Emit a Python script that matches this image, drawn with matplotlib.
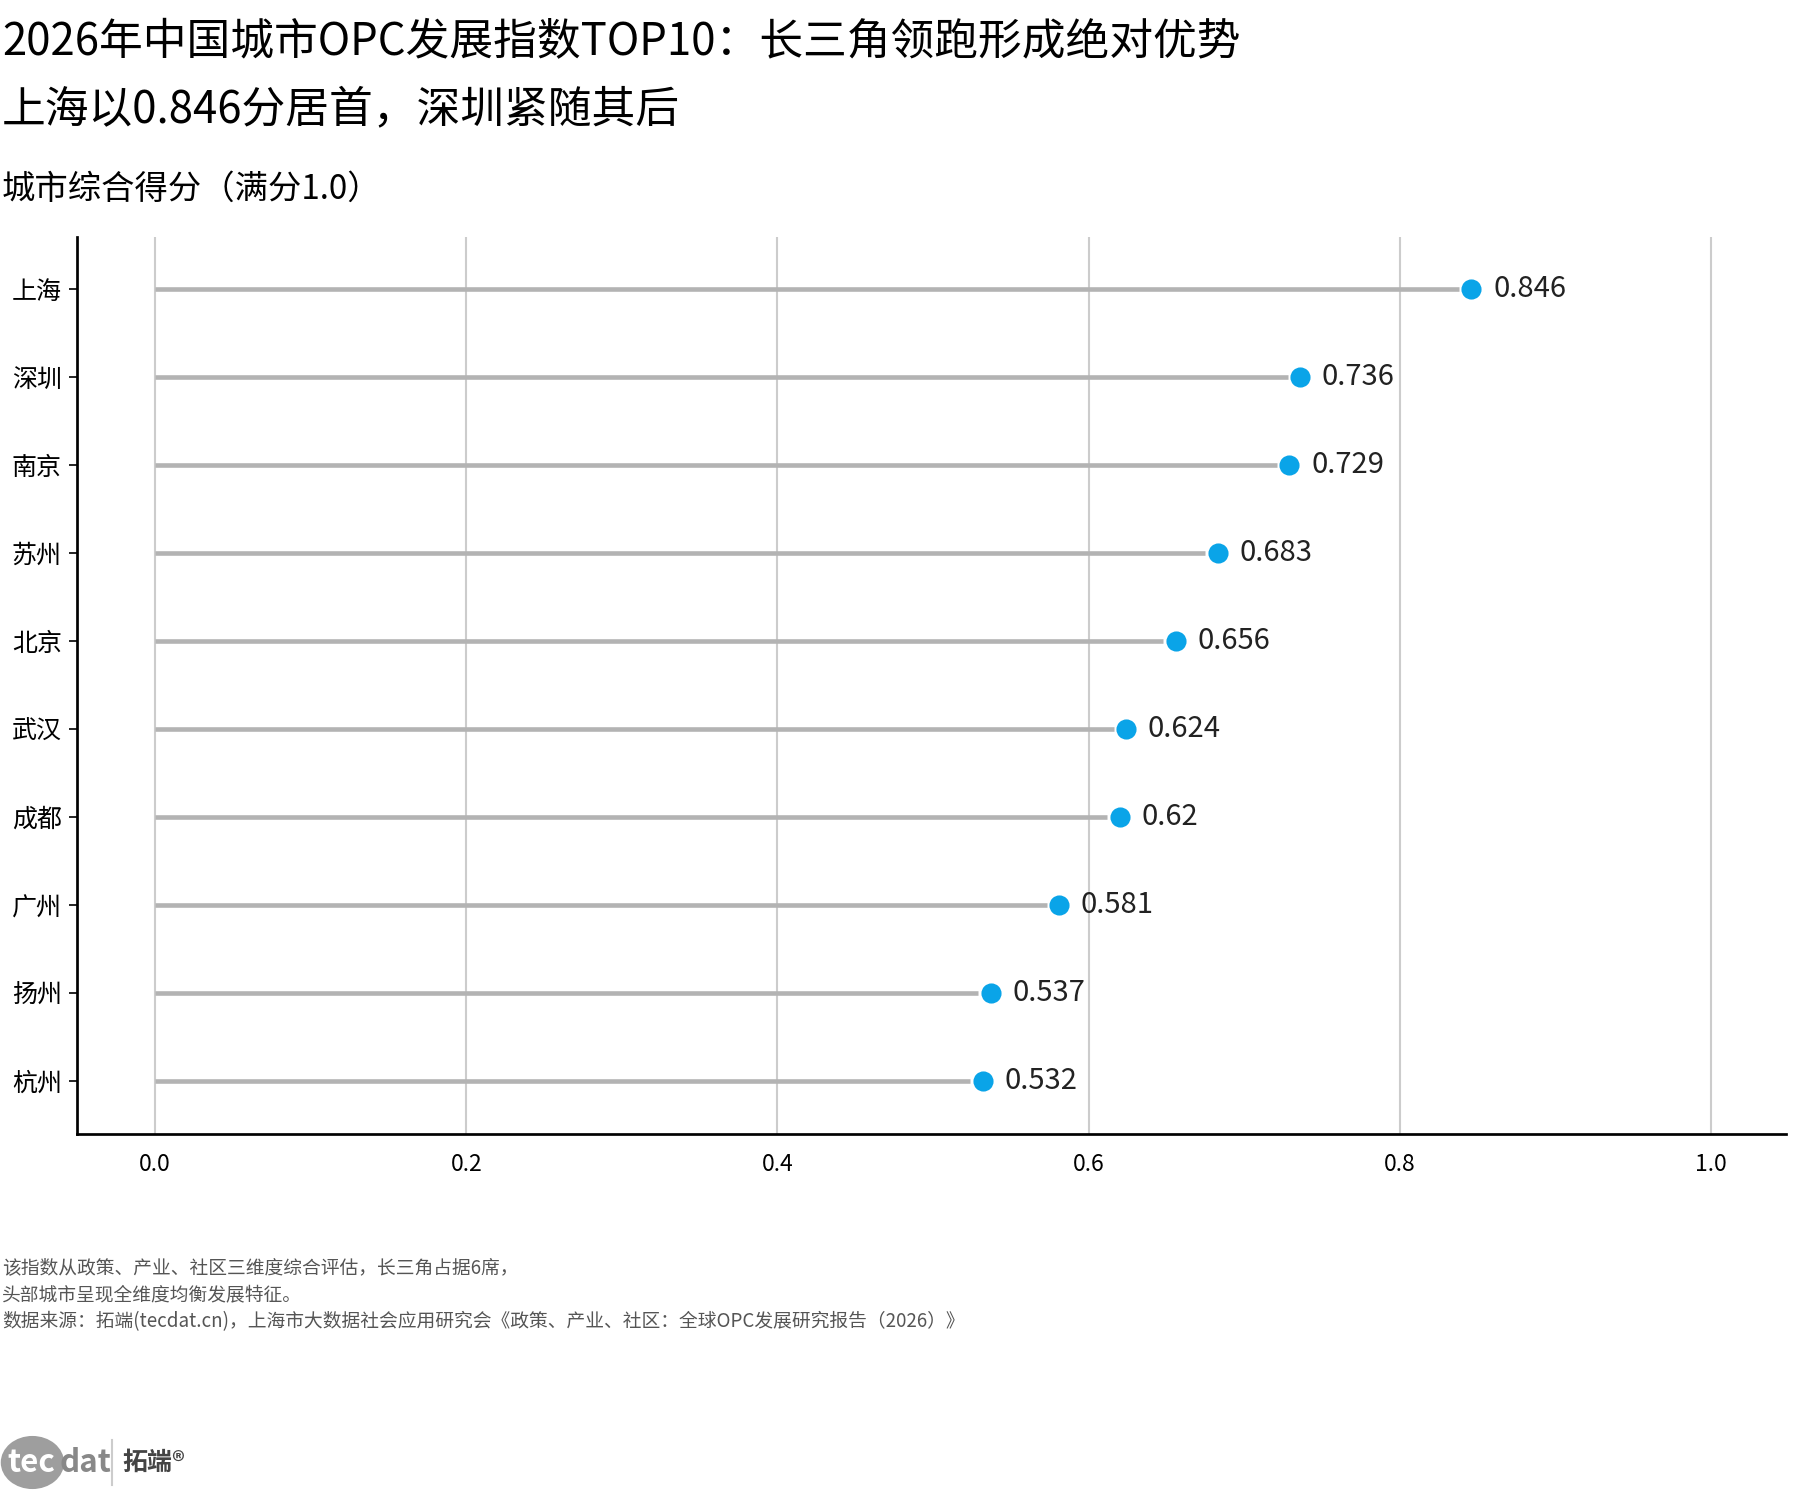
import matplotlib
matplotlib.use("Agg")
import matplotlib.pyplot as plt
from matplotlib.patches import Circle

plt.rcParams['font.family'] = ['Noto Sans CJK SC', 'DejaVu Sans']

cities = ["上海", "深圳", "南京", "苏州", "北京", "武汉", "成都", "广州", "扬州", "杭州"]
scores = [0.846, 0.736, 0.729, 0.683, 0.656, 0.624, 0.62, 0.581, 0.537, 0.532]
xticks = [0.0, 0.2, 0.4, 0.6, 0.8, 1.0]

fig = plt.figure(figsize=(12, 10), dpi=150)
ax = fig.add_axes([0.043, 0.244, 0.949, 0.598])

ys = list(range(len(cities)))
for y, v in zip(ys, scores):
    ax.hlines(y, 0, v - 0.008, color="#b3b3b3", lw=2.2, zorder=2)
ax.scatter(scores, ys, s=75, color="#0aa4e8", zorder=3)
for y, v in zip(ys, scores):
    ax.text(v + 0.014, y, f"{v:g}", va="center", ha="left", fontsize=14, color="#222222")

ax.set_xlim(-0.05, 1.048)
ax.set_ylim(len(cities) - 0.4, -0.59)
ax.set_yticks(ys)
ax.set_yticklabels(cities, fontsize=12)
ax.set_xticks(xticks)
ax.set_xticklabels([f"{t:.1f}" for t in xticks], fontsize=11)
ax.tick_params(axis="x", length=0, pad=9)
ax.tick_params(axis="y", length=4)
ax.grid(axis="x", color="#cccccc", lw=1)
ax.set_axisbelow(True)
for s in ["top", "right"]:
    ax.spines[s].set_visible(False)
for s in ["left", "bottom"]:
    ax.spines[s].set_linewidth(1.3)

fig.text(0.001, 0.972, "2026年中国城市OPC发展指数TOP10：长三角领跑形成绝对优势", fontsize=21, va="center")
fig.text(0.001, 0.927, "上海以0.846分居首，深圳紧随其后", fontsize=21, va="center")
fig.text(0.001, 0.874, "城市综合得分（满分1.0）", fontsize=16, va="center")

notes = ["该指数从政策、产业、社区三维度综合评估，长三角占据6席，",
         "头部城市呈现全维度均衡发展特征。",
         "数据来源：拓端(tecdat.cn)，上海市大数据社会应用研究会《政策、产业、社区：全球OPC发展研究报告（2026）》"]
for i, n in enumerate(notes):
    fig.text(0.001, 0.155 - i * 0.018, n, fontsize=9, color="#555555", va="center")

# logo
fig.patches.append(Circle((0.018, 0.025), 0.017, transform=fig.transFigure,
                          color="#9e9e9e", figure=fig))
fig.text(0.004, 0.025, "tec", fontsize=15, color="white", weight="bold", va="center")
fig.text(0.033, 0.025, "dat", fontsize=15, color="#888888", weight="bold", va="center")
fig.text(0.068, 0.025, "拓端®", fontsize=12, color="#444444", weight="bold", va="center")
fig.add_artist(plt.Line2D([0.062, 0.062], [0.01, 0.04], color="#cccccc", lw=1))

fig.savefig("out.png", dpi=150)
